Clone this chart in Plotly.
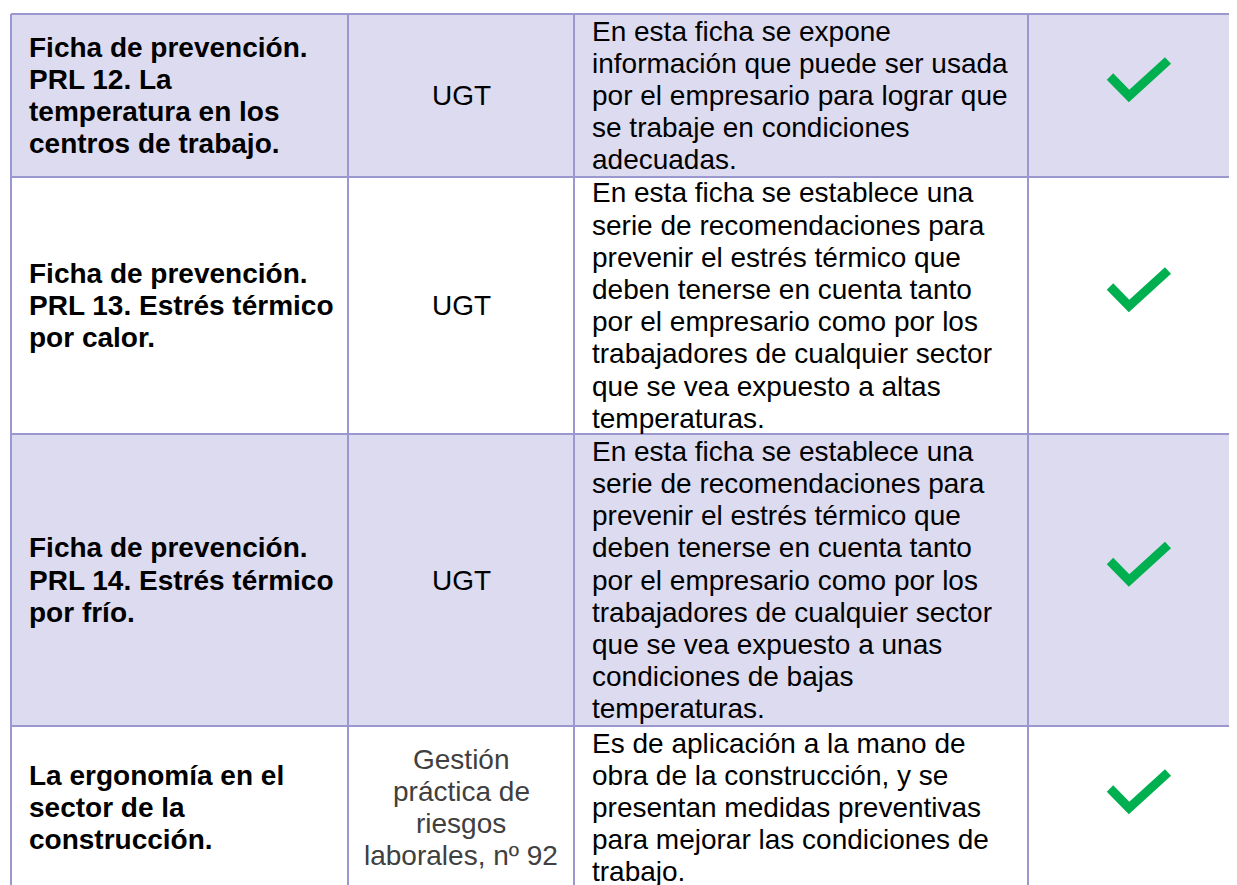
import plotly.graph_objects as go

# ---------------- data ----------------
titles = [
    "Ficha de prevención.\nPRL 12. La\ntemperatura en los\ncentros de trabajo.",
    "Ficha de prevención.\nPRL 13. Estrés térmico\npor calor.",
    "Ficha de prevención.\nPRL 14. Estrés térmico\npor frío.",
    "La ergonomía en el\nsector de la\nconstrucción.",
]
sources = [
    "UGT",
    "UGT",
    "UGT",
    "Gestión\npráctica de\nriesgos\nlaborales, nº 92",
]
descriptions = [
    "En esta ficha se expone\ninformación que puede ser usada\npor el empresario para lograr que\nse trabaje en condiciones\nadecuadas.",
    "En esta ficha se establece una\nserie de recomendaciones para\nprevenir el estrés térmico que\ndeben tenerse en cuenta tanto\npor el empresario como por los\ntrabajadores de cualquier sector\nque se vea expuesto a altas\ntemperaturas.",
    "En esta ficha se establece una\nserie de recomendaciones para\nprevenir el estrés térmico que\ndeben tenerse en cuenta tanto\npor el empresario como por los\ntrabajadores de cualquier sector\nque se vea expuesto a unas\ncondiciones de bajas\ntemperaturas.",
    "Es de aplicación a la mano de\nobra de la construcción, y se\npresentan medidas preventivas\npara mejorar las condiciones de\ntrabajo.",
]
available = [True, True, True, True]

# ---------------- layout / style ----------------
PAGE_W, PAGE_H = 1237, 885
OFF = 8  # default page body margin
W, H = PAGE_W - OFF, PAGE_H - OFF
COL_EDGES = [11, 348, 574, 1028, 1260]
ROW_EDGES = [14, 177, 434, 726, 889]
LH = 32.2
FONT = "Liberation Sans, Arial, sans-serif"
FS = 28
FILL_BAND = "#DDDBF0"
BORDER = "#9B98D0"
GREEN = "#00B050"
source_colors = ["#000000", "#000000", "#000000", "#404040"]

shapes = []
annotations = []

# row fills
for i in range(len(titles)):
    if i % 2 == 0:
        shapes.append(dict(type="rect", xref="x", yref="y",
                           x0=COL_EDGES[0], x1=COL_EDGES[-1],
                           y0=ROW_EDGES[i], y1=ROW_EDGES[i + 1],
                           fillcolor=FILL_BAND, line=dict(width=0), layer="below"))

# borders
for y in ROW_EDGES[:-1]:
    shapes.append(dict(type="line", xref="x", yref="y", x0=COL_EDGES[0], x1=COL_EDGES[-1],
                       y0=y, y1=y, line=dict(color=BORDER, width=2)))
for x in COL_EDGES[:-1]:
    shapes.append(dict(type="line", xref="x", yref="y", x0=x, x1=x,
                       y0=ROW_EDGES[0], y1=ROW_EDGES[-1], line=dict(color=BORDER, width=2)))


def add_lines(text, x, cy, anchor, bold=False, color="#000000"):
    lines = text.split("\n")
    n = len(lines)
    for k, ln in enumerate(lines):
        y = cy + (k - (n - 1) / 2) * LH
        annotations.append(dict(
            x=x, y=y, xref="x", yref="y", xanchor=anchor, yanchor="middle",
            text=f"<b>{ln}</b>" if bold else ln, showarrow=False,
            font=dict(family=FONT, size=FS, color=color)))


chk_x, chk_y = [], []
for i in range(len(titles)):
    cy = (ROW_EDGES[i] + ROW_EDGES[i + 1]) / 2
    add_lines(titles[i], COL_EDGES[0] + 16, cy, "left", bold=True)
    add_lines(sources[i], (COL_EDGES[1] + COL_EDGES[2]) / 2, cy, "center",
              color=source_colors[i])
    add_lines(descriptions[i], COL_EDGES[2] + 16, cy, "left")
    if available[i]:
        cx = 1139
        chk_x += [cx - 29, cx - 10, cx + 29, None]
        chk_y += [cy - 19, cy + 0.5, cy - 35, None]

fig = go.Figure()
fig.add_trace(go.Scatter(x=chk_x, y=chk_y, mode="lines",
                         line=dict(color=GREEN, width=9),
                         hoverinfo="skip", showlegend=False))

fig.update_layout(
    width=W, height=H,
    margin=dict(l=0, r=0, t=0, b=0),
    paper_bgcolor="white", plot_bgcolor="white",
    xaxis=dict(range=[OFF, PAGE_W], visible=False, fixedrange=True),
    yaxis=dict(range=[PAGE_H, OFF], visible=False, fixedrange=True),
    shapes=shapes, annotations=annotations,
    showlegend=False,
)
fig.write_html("out.html")
